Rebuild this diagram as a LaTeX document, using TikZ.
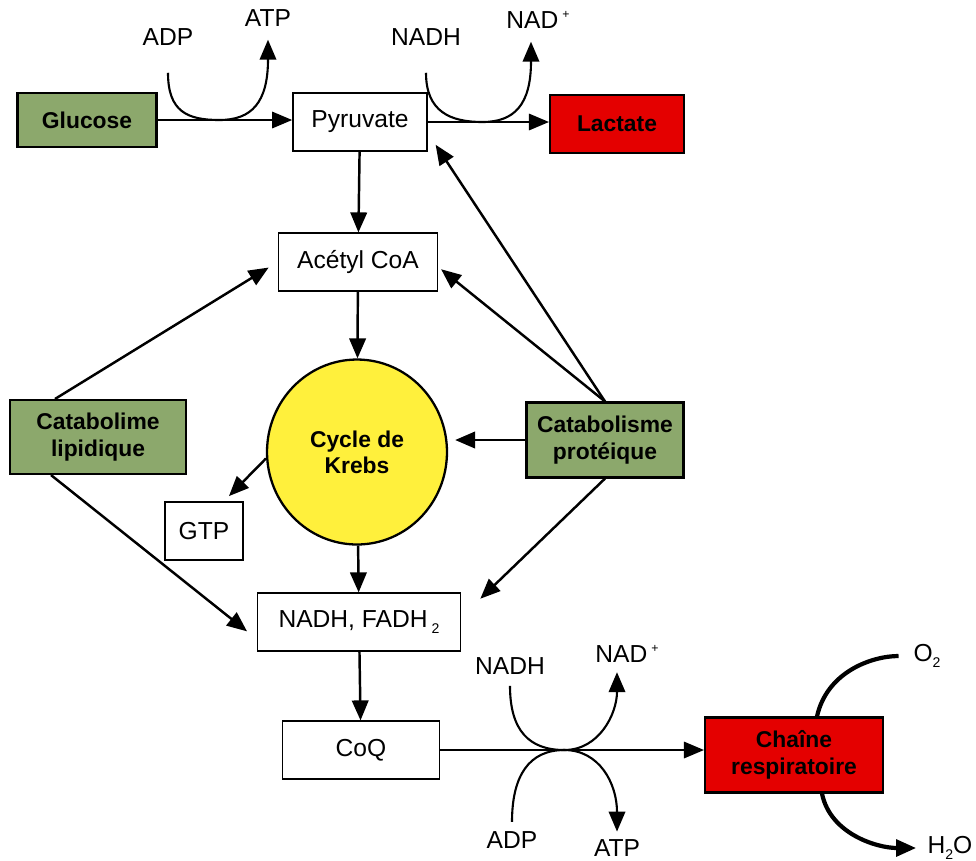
\documentclass[tikz,border=0pt]{standalone}
\usepackage{fontspec}
\setmainfont{Liberation Sans}
\usetikzlibrary{positioning,shapes,arrows.meta,calc}
\definecolor{cataboliegreen}{RGB}{140, 168, 108}
\definecolor{lactatered}{RGB}{228, 0, 0}
\definecolor{krebsyellow}{RGB}{255, 240, 60}
\newcommand{\smallsup}[1]{\raisebox{0.75ex}{\fontsize{7}{7}\selectfont #1}}
\newcommand{\smallsub}[1]{\raisebox{-0.45ex}{\fontsize{8}{8}\selectfont #1}}

\begin{document}
\begin{tikzpicture}[x=0.02cm, y=-0.02cm,
    every node/.style={font=\fontsize{14}{16}\selectfont},
    whitebox/.style={draw, fill=white, line width=1pt, minimum height=1.15cm},
    greenbox/.style={draw, fill=cataboliegreen, line width=1.2pt, align=center, font=\bfseries\fontsize{13}{15}\selectfont},
    redbox/.style={greenbox, fill=lactatered},
    arrow/.style={-{Triangle[length=0.4cm, width=0.33cm]}, line width=1.4pt},
    thinarrow/.style={arrow, line width=0.9pt},
    curve/.style={line width=1.2pt},
    thickcurve/.style={line width=2.4pt}]

    \useasboundingbox (0,0) rectangle (976,860);

    \node [greenbox, minimum width=2.78cm, minimum height=1.08cm] (glucose) at (87,120) {Glucose};
    \node [whitebox, minimum width=2.68cm] (pyruvate) at (360,122) {Pyruvate};
    \node [redbox, minimum width=2.68cm, minimum height=1.16cm] (lactate) at (617,124) {Lactate};
    \node [whitebox, minimum width=3.18cm] (acetyl) at (358,262) {Acétyl CoA};
    \node [ellipse, draw, fill=krebsyellow, line width=1.3pt, minimum width=3.6cm, minimum height=3.7cm,
        align=center, font=\bfseries\fontsize{13}{15}\selectfont] (krebs) at (357,452) {Cycle de\\Krebs};
    \node [whitebox, minimum width=1.56cm, minimum height=1.16cm] (gtp) at (204,531) {GTP};
    \node [whitebox, minimum width=4.06cm] (nadh) at (359,622) {NADH, FADH\,\smallsub{2}};
    \node [whitebox, minimum width=3.14cm] (coq) at (361,750) {CoQ};
    \node [greenbox, minimum width=3.52cm, minimum height=1.48cm] (lipid) at (98,437) {Catabolime\\lipidique};
    \node [greenbox, minimum width=3.14cm, minimum height=1.5cm] (protein) at (605,440) {Catabolisme\\protéique};
    \node [redbox, minimum width=3.56cm, minimum height=1.5cm] (chaine) at (794,755) {Chaîne\\respiratoire};

    \node (adptop) at (168,37) {ADP};
    \node (atptop) at (268,18) {ATP};
    \node (nadhtop) at (426,37) {NADH};
    \node (nadtop) at (538,20) {NAD\,\smallsup{+}};
    \node (nadhbot) at (510,666) {NADH};
    \node (nadbot) at (627,654) {NAD\,\smallsup{+}};
    \node (adpbot) at (512,840) {ADP};
    \node (atpbot) at (617,848) {ATP};
    \node (oxygen) at (927,656) {O\smallsub{2}};
    \node (water) at (950,848) {H\smallsub{2}O};

    \coordinate (touchA) at ($(glucose.east)!0.46!(glucose.east -| pyruvate.west)$);
    \coordinate (touchB) at ($(pyruvate.east)!0.45!(pyruvate.east -| lactate.west)$);
    \coordinate (touchC) at ($(coq.east)!0.47!(coq.east -| chaine.west)$);

    \draw [thinarrow] (glucose.east) -- (glucose.east -| pyruvate.west);
    \draw [thinarrow] (pyruvate.east) -- (pyruvate.east -| lactate.west);
    \draw [thinarrow] (coq.east) -- (coq.east -| chaine.west);
    \draw [arrow] (pyruvate) -- (acetyl);
    \draw [arrow] (acetyl) -- (krebs);
    \draw [arrow] (krebs) -- (nadh);
    \draw [arrow] (nadh) -- (coq);
    \draw [arrow, shorten >=4pt] (krebs.184) -- ([xshift=0.4cm]gtp.north);
    \draw [arrow, shorten >=6pt] ([xshift=-0.86cm]lipid.north) -- (acetyl.west);
    \draw [arrow, shorten >=7pt] ([xshift=-0.94cm]lipid.south) -- ([yshift=-0.34cm]nadh.west);
    \draw [arrow, shorten >=2pt] (protein.north) -- ([yshift=-0.1cm]acetyl.east);
    \draw [arrow, shorten >=8pt] (protein.north) -- ([yshift=-0.22cm]pyruvate.east);
    \draw [arrow, shorten >=4pt] (protein.west) -- (protein.west -| krebs.east);
    \draw [arrow, shorten >=15pt] (protein.south) -- ([yshift=0.1cm]nadh.east);

    \draw [curve, shorten <=12pt] (adptop.south) .. controls +(0,60) and +(-32,0) .. (touchA);
    \draw [curve, arrow, line width=1.2pt, shorten >=4pt] (touchA) .. controls +(32,0) and +(0,70) .. (atptop.south);
    \draw [curve, shorten <=12pt] (nadhtop.south) .. controls +(0,60) and +(-32,0) .. (touchB);
    \draw [curve, arrow, line width=1.2pt, shorten >=4pt] (touchB) .. controls +(32,0) and +(0,70) .. ([xshift=-0.14cm]nadtop.south);
    \draw [curve, shorten <=3pt] (nadhbot.south) .. controls +(0,50) and +(-35,0) .. (touchC);
    \draw [curve, arrow, line width=1.2pt, shorten >=2pt] (touchC) .. controls +(35,0) and +(0,45) .. ([xshift=-0.2cm]nadbot.south);
    \draw [curve, shorten <=2pt] (adpbot.north) .. controls +(0,-50) and +(-35,0) .. (touchC);
    \draw [curve, arrow, line width=1.2pt, shorten >=1pt] (touchC) .. controls +(35,0) and +(0,-50) .. (atpbot.north);
    \draw [thickcurve, shorten >=5pt] ([xshift=0.46cm]chaine.north) .. controls +(10,-45) and +(-35,0) .. (oxygen.west);
    \draw [thickcurve, arrow, line width=2.4pt, shorten >=3pt] ([xshift=0.56cm]chaine.south) .. controls +(8,40) and +(-45,0) .. (water.west);
\end{tikzpicture}
\end{document}
